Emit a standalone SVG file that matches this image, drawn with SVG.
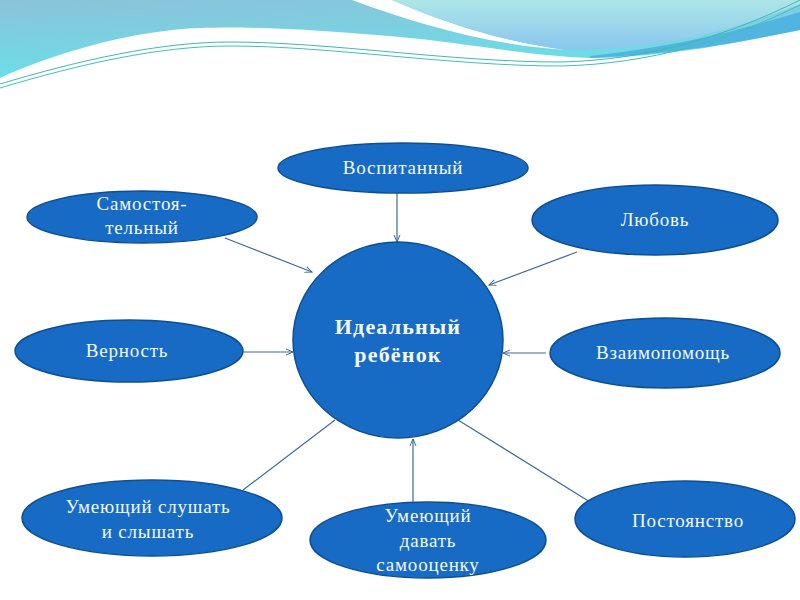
<svg xmlns="http://www.w3.org/2000/svg" width="800" height="600" viewBox="0 0 800 600">
<defs>
<linearGradient id="gMain" x1="0" y1="0" x2="0.3" y2="1">
<stop offset="0" stop-color="#8cc2da"/>
<stop offset="1" stop-color="#68e0e8"/>
</linearGradient>
<linearGradient id="gLight" x1="0" y1="0" x2="0" y2="1">
<stop offset="0" stop-color="#aee6e6"/>
<stop offset="1" stop-color="#88c6ee"/>
</linearGradient>
<marker id="arr" markerWidth="8" markerHeight="8" refX="7" refY="4" orient="auto" markerUnits="userSpaceOnUse">
<path d="M0,1 L7,4 L0,7" fill="none" stroke="#3d6a98" stroke-width="1"/>
</marker>
<style>
.node ellipse{fill:#176bc4;stroke:#0e4f92;stroke-width:1.5}
.node text{font-family:"Liberation Serif","DejaVu Serif",serif;font-size:19px;fill:#f4f8fc;text-anchor:middle;letter-spacing:0.8px}
.center text{font-weight:bold;font-size:22px;letter-spacing:1.2px}
.conn line{stroke:#3d6a98;stroke-width:1.2}
.conn line.a{marker-end:url(#arr)}
</style>
</defs>
<rect width="800" height="600" fill="#ffffff"/>
<g id="background">
<path d="M0,0 H800 V30 C740,42 680,55 600,58 C540,58 460,42 400,37 C320,30 250,26 200,28 C140,30 60,50 0,78 Z" fill="url(#gMain)"/>
<path d="M352,0 H392 C450,25 505,42 566,50 C490,45 420,25 352,0 Z" fill="#ffffff"/>
<path d="M392,0 H800 V4 C720,36 650,50 566,50 C505,42 450,25 392,0 Z" fill="url(#gLight)"/>
<path d="M590,56 C680,46 740,30 800,12 V30 C740,42 680,54 590,58 Z" fill="#52b4e0"/>
<path d="M0,84 C80,60 160,42 230,42 C330,42 450,62 561,62 C650,60 730,35 800,0" fill="none" stroke="#3fb8b0" stroke-width="1"/>
<path d="M0,88 C80,64 160,46 230,46 C330,46 450,66 561,66 C650,64 730,40 800,5" fill="none" stroke="#40c0b8" stroke-width="1"/>
</g>
<g id="connectors" class="conn">
<line class="a" x1="397" y1="193" x2="397" y2="242"/>
<line class="a" x1="225" y1="238" x2="312" y2="272"/>
<line class="a" x1="577" y1="252" x2="489" y2="285"/>
<line class="a" x1="243" y1="352" x2="293" y2="352"/>
<line class="a" x1="546" y1="353" x2="503" y2="353"/>
<line x1="243" y1="490" x2="335" y2="420"/>
<line class="a" x1="413" y1="502" x2="413" y2="439"/>
<line x1="458" y1="420" x2="590" y2="502"/>
</g>
<g id="center" class="node center">
<ellipse cx="398" cy="340" rx="105" ry="98"/>
<text x="398" y="334">Идеальный</text>
<text x="398" y="362">ребёнок</text>
</g>
<g id="vospitanny" class="node">
<ellipse cx="403" cy="168" rx="125" ry="25"/>
<text x="403" y="174">Воспитанный</text>
</g>
<g id="samostoyatelny" class="node">
<ellipse cx="142" cy="217" rx="115" ry="26"/>
<text x="142" y="210">Самостоя-</text>
<text x="142" y="234">тельный</text>
</g>
<g id="lyubov" class="node">
<ellipse cx="655" cy="220" rx="123" ry="35"/>
<text x="655" y="226">Любовь</text>
</g>
<g id="vernost" class="node">
<ellipse cx="129" cy="351" rx="114" ry="31"/>
<text x="127" y="357">Верность</text>
</g>
<g id="vzaimopomosch" class="node">
<ellipse cx="665" cy="353" rx="115" ry="35"/>
<text x="663" y="359">Взаимопомощь</text>
</g>
<g id="umeyuschy-slushat" class="node">
<ellipse cx="152" cy="518" rx="130" ry="38"/>
<text x="148" y="513">Умеющий слушать</text>
<text x="148" y="538">и слышать</text>
</g>
<g id="umeyuschy-davat" class="node">
<ellipse cx="428" cy="540" rx="118" ry="38"/>
<text x="428" y="522">Умеющий</text>
<text x="428" y="547">давать</text>
<text x="428" y="571">самооценку</text>
</g>
<g id="postoyanstvo" class="node">
<ellipse cx="685" cy="519" rx="110" ry="38"/>
<text x="688" y="527">Постоянство</text>
</g>
</svg>
